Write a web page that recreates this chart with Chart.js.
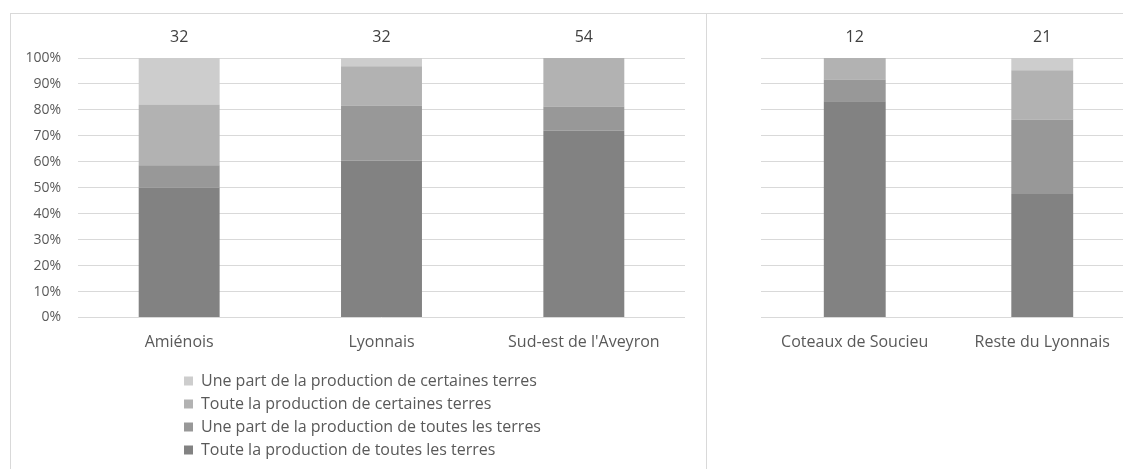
<!DOCTYPE html>
<html><head><meta charset="utf-8">
<script src="https://cdn.jsdelivr.net/npm/chart.js@4/dist/chart.umd.min.js"></script>
<style>
html,body{margin:0;padding:0;background:#fff;overflow:hidden;width:1123px;height:469px;}
.panel{position:absolute;box-sizing:border-box;}
#p1{left:10px;top:13px;width:697px;height:500px;border:1px solid #d9d9d9;}
#p2{left:707px;top:13px;width:500px;height:500px;border-top:1px solid #d9d9d9;}
#c1{position:absolute;left:11px;top:14px;}
#c2{position:absolute;left:707px;top:14px;}
</style>
</head><body>
<div class="panel" id="p1"></div>
<div class="panel" id="p2"></div>
<canvas id="c1" width="695" height="455"></canvas>
<canvas id="c2" width="429" height="455"></canvas>
<script>
// ---- data ----
const categoriesLeft = ['Amiénois', 'Lyonnais', "Sud-est de l'Aveyron"];
const countsLeft = ['32', '32', '54'];
const categoriesRight = ['Coteaux de Soucieu', 'Reste du Lyonnais'];
const countsRight = ['12', '21'];

const seriesNames = [
  'Toute la production de toutes les terres',
  'Une part de la production de toutes les terres',
  'Toute la production de certaines terres',
  'Une part de la production de certaines terres'
];
const touteToutesLeft = [50, 60.5, 72];
const partToutesLeft = [8.7, 21.2, 9.3];
const touteCertainesLeft = [23.4, 15.1, 18.7];
const partCertainesLeft = [17.9, 3.2, 0];

const touteToutesRight = [83.3, 47.6];
const partToutesRight = [8.4, 28.6];
const touteCertainesRight = [8.3, 19.1];
const partCertainesRight = [0, 4.7];

const yTicks = [0, 10, 20, 30, 40, 50, 60, 70, 80, 90, 100];

// ---- styles ----
const colors = ['#828282', '#989898', '#b2b2b2', '#cdcdcd'];
Chart.defaults.font.family = "'Open Sans', sans-serif";
Chart.defaults.color = '#595959';

function makeDatasets(arrs) {
  return arrs.map((d, i) => ({
    label: seriesNames[i], data: d, backgroundColor: colors[i], borderWidth: 0
  }));
}

const legendShift = {
  id: 'legendShift',
  afterLayout(chart) {
    if (chart.legend && chart.options.plugins.legend.display) {
      chart.legend.left = 166;
    }
  }
};

function makeChart(id, cats, counts, arrs, opts) {
  return new Chart(document.getElementById(id), {
    type: 'bar',
    data: { labels: cats, datasets: makeDatasets(arrs) },
    plugins: [legendShift],
    options: {
      responsive: false,
      animation: false,
      layout: { padding: opts.padding },
      datasets: { bar: { categoryPercentage: opts.catPct, barPercentage: 1 } },
      plugins: {
        tooltip: { enabled: false },
        legend: {
          display: opts.legend,
          position: 'bottom',
          align: 'start',
          fullSize: false,
          reverse: true,
          labels: { boxWidth: 9, boxHeight: 9, padding: 7, color: '#595959', font: { size: 16 } }
        }
      },
      scales: {
        x: {
          stacked: true,
          grid: { display: false, drawTicks: false },
          border: { display: false },
          ticks: { color: '#595959', font: { size: 16 }, padding: 15, maxRotation: 0, autoSkip: false },
          afterFit(s) { s.height = 48.5; }
        },
        x2: {
          type: 'category',
          position: 'top',
          labels: counts,
          offset: true,
          grid: { display: false, drawTicks: false },
          border: { display: false },
          ticks: { color: '#404040', font: { size: 16 }, padding: 11, autoSkip: false },
          afterFit(s) { s.height = 44; }
        },
        y: {
          stacked: true,
          min: 0, max: 100,
          afterBuildTicks(s) { s.ticks = yTicks.map(v => ({ value: v })); },
          ticks: { display: opts.yLabels, callback: v => v + '%', color: '#595959', font: { size: 14 }, padding: 17 },
          grid: { color: '#d9d9d9', lineWidth: 1, drawTicks: false },
          border: { display: false },
          afterFit(s) { s.width = opts.yWidth; }
        }
      }
    }
  });
}

makeChart('c1', categoriesLeft, countsLeft,
  [touteToutesLeft, partToutesLeft, touteCertainesLeft, partCertainesLeft],
  { padding: { left: 0, right: 21, top: 0, bottom: 1 }, catPct: 0.4, legend: true, yLabels: true, yWidth: 67 });

makeChart('c2', categoriesRight, countsRight,
  [touteToutesRight, partToutesRight, touteCertainesRight, partCertainesRight],
  { padding: { left: 0, right: 0, top: 0, bottom: 103 }, catPct: 0.33, legend: false, yLabels: false, yWidth: 54 });
</script>
</body></html>
